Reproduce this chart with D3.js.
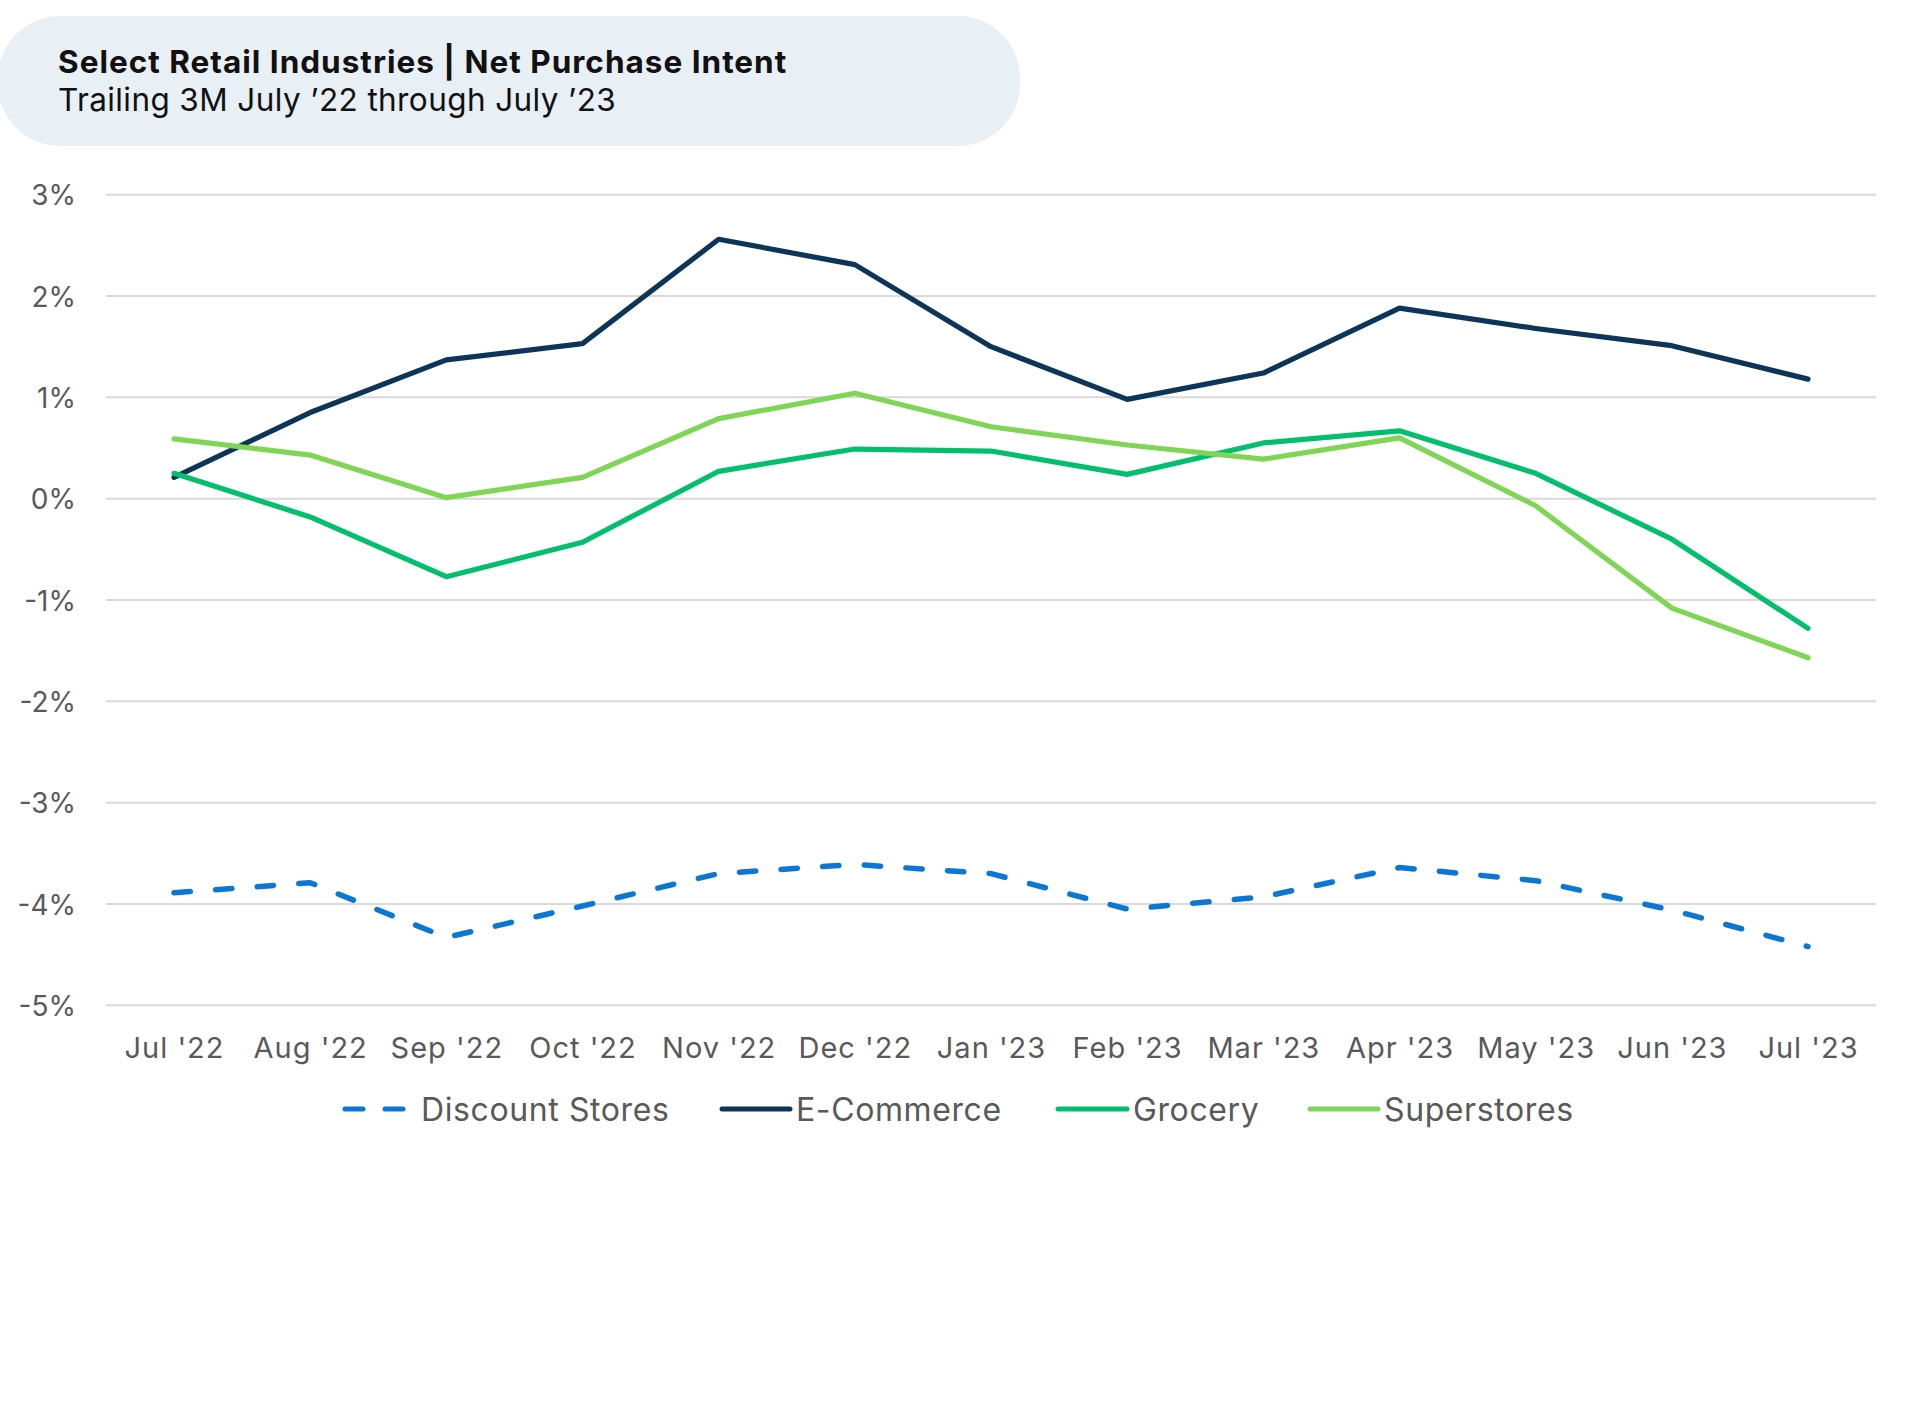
<!DOCTYPE html>
<html>
<head>
<meta charset="utf-8">
<script src="https://cdn.jsdelivr.net/npm/d3@7"></script>
<style>
  html, body { margin: 0; padding: 0; background: #ffffff; }
  svg { display: block; }
  text { font-family: Inter, "Open Sans", sans-serif; }
</style>
</head>
<body>
<svg id="chart" width="1920" height="1421"></svg>
<script>
const months = ["Jul '22","Aug '22","Sep '22","Oct '22","Nov '22","Dec '22","Jan '23","Feb '23","Mar '23","Apr '23","May '23","Jun '23","Jul '23"];
const discountStores = [-3.89,-3.79,-4.33,-4.02,-3.70,-3.61,-3.70,-4.05,-3.93,-3.64,-3.77,-4.06,-4.42];
const eCommerce     = [0.21,0.85,1.37,1.53,2.56,2.31,1.50,0.98,1.24,1.88,1.68,1.51,1.18];
const grocery       = [0.25,-0.18,-0.77,-0.43,0.27,0.49,0.47,0.24,0.55,0.67,0.25,-0.40,-1.28];
const superstores   = [0.59,0.43,0.01,0.21,0.79,1.04,0.71,0.53,0.39,0.60,-0.07,-1.08,-1.57];
const yTicks = [3,2,1,0,-1,-2,-3,-4,-5];
const seriesNames = ["Discount Stores","E-Commerce","Grocery","Superstores"];
const titleText = "Select Retail Industries | Net Purchase Intent";
const subtitleText = "Trailing 3M July \u201922 through July \u201923";

const series = [
  {name: seriesNames[0], values: discountStores, color: "#0b77d4", dashed: true},
  {name: seriesNames[1], values: eCommerce, color: "#0c3557", dashed: false},
  {name: seriesNames[2], values: grocery, color: "#02bf6e", dashed: false},
  {name: seriesNames[3], values: superstores, color: "#7fd655", dashed: false}
];

const svg = d3.select("#chart");
svg.append("rect").attr("width",1920).attr("height",1421).attr("fill","#ffffff");

// Title pill
svg.append("rect").attr("x",-2).attr("y",16).attr("width",1022).attr("height",130)
  .attr("rx",62).attr("ry",62).attr("fill","#e8eff5");
svg.append("text").attr("x",58).attr("y",73).attr("font-size",31.5).attr("font-weight",700)
  .attr("letter-spacing",1.0).attr("fill","#111111").text(titleText);
svg.append("text").attr("x",58).attr("y",111).attr("font-size",31.5).attr("font-weight",400)
  .attr("letter-spacing",0.4).attr("fill","#111111").text(subtitleText);

const plotLeft = 106, plotRight = 1876;
const x = d3.scalePoint().domain(months).range([174, 1808]);
const y = d3.scaleLinear().domain([-5, 3]).range([1005.3, 194.7]);

// gridlines
const grid = svg.append("g");
grid.selectAll("line").data(yTicks).join("line")
  .attr("x1", plotLeft).attr("x2", plotRight)
  .attr("y1", d => y(d)).attr("y2", d => y(d))
  .attr("stroke", "#d9d9d9").attr("stroke-width", 2);

// y axis labels
const yAxis = d3.axisLeft(y).tickValues(yTicks).tickFormat(d => d + "%").tickSize(0).tickPadding(0);
const yg = svg.append("g").attr("transform", "translate(76,0)").call(yAxis);
yg.select(".domain").remove();
yg.selectAll("text").attr("font-size", 28).attr("fill", "#595959")
  .attr("font-family", "Inter, 'Open Sans', sans-serif").attr("dy", "0.36em");

// x axis labels
const xAxis = d3.axisBottom(x).tickSize(0).tickPadding(0);
const xg = svg.append("g").attr("transform", "translate(0,1058)").call(xAxis);
xg.select(".domain").remove();
xg.selectAll("text").attr("font-size", 29).attr("fill", "#595959")
  .attr("letter-spacing", 1).attr("font-family", "Inter, 'Open Sans', sans-serif").attr("dy", "0");

// lines
const line = d3.line().x((d,i) => x(months[i])).y(d => y(d));

svg.append("g").selectAll("path").data(series).join("path")
  .attr("d", s => line(s.values))
  .attr("fill", "none")
  .attr("stroke", s => s.color)
  .attr("stroke-width", s => s.dashed ? 5.5 : 5.2)
  .attr("stroke-linecap", "round")
  .attr("stroke-linejoin", "round")
  .attr("stroke-dasharray", s => s.dashed ? "16.4,25.3" : null);

// legend
const legendItems = [
  {x0: 345, x1: 405, tx: 421},
  {x0: 722, x1: 790, tx: 796},
  {x0: 1058, x1: 1127, tx: 1133},
  {x0: 1310, x1: 1378, tx: 1384}
];
const legendY = 1109;
const lg = svg.append("g");
series.forEach((s, i) => {
  const p = legendItems[i];
  lg.append("line").attr("x1", p.x0).attr("x2", p.x1).attr("y1", legendY).attr("y2", legendY)
    .attr("stroke", s.color).attr("stroke-width", 5)
    .attr("stroke-linecap", "round")
    .attr("stroke-dasharray", s.dashed ? "18,22" : null);
  lg.append("text").attr("x", p.tx).attr("y", legendY).attr("dy", "0.36em")
    .attr("font-size", 32).attr("letter-spacing", 0.6).attr("fill", "#595959").text(s.name);
});
</script>
</body>
</html>
